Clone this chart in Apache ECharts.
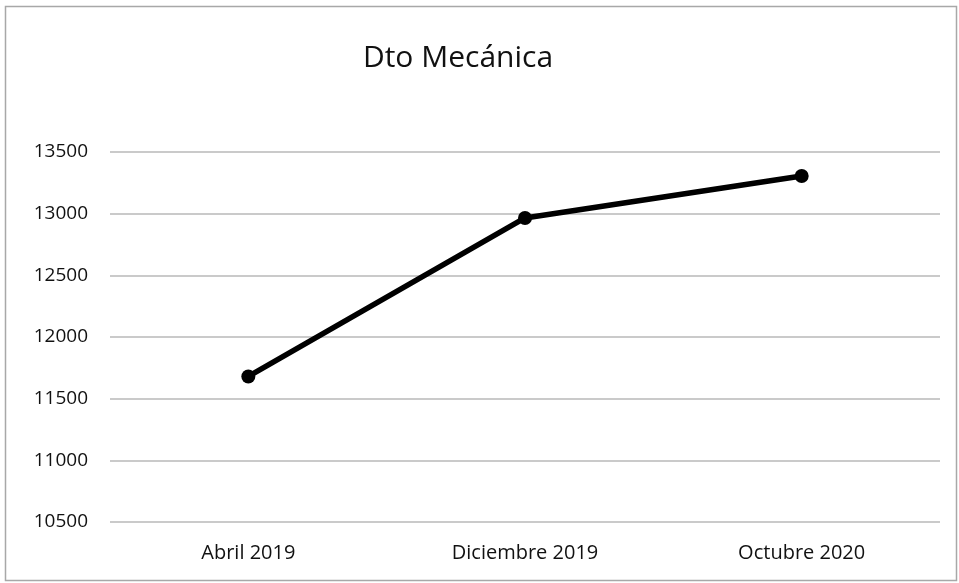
<!DOCTYPE html>
<html>
<head>
<meta charset="utf-8">
<script src="https://cdn.jsdelivr.net/npm/echarts@6/dist/echarts.min.js"></script>
<style>
  html, body { margin: 0; padding: 0; background: #ffffff; }
  #chart { width: 959px; height: 583px; }
</style>
</head>
<body>
<div id="chart"></div>
<script>
const CATEGORIES = ["Abril 2019", "Diciembre 2019", "Octubre 2020"];
const VALUES = [11680, 12965, 13305];
const Y_MIN = 10500;
const Y_MAX = 13500;
const Y_STEP = 500;

const FONT = "'Open Sans', 'Noto Sans', sans-serif";

const chart = echarts.init(document.getElementById("chart"), null, { renderer: "canvas" });

chart.setOption({
  backgroundColor: "#ffffff",
  animation: false,
  title: {
    text: "Dto Mecánica",
    left: 453,
    top: 38,
    textAlign: "center",
    textStyle: {
      fontFamily: FONT,
      fontSize: 30,
      fontWeight: "normal",
      color: "#111111",
    },
  },
  graphic: [
    {
      type: "rect",
      shape: { x: 5.5, y: 6.5, width: 951, height: 574 },
      style: { fill: "none", stroke: "#a8a8a8", lineWidth: 1.5 },
      silent: true,
    },
  ],
  grid: {
    left: 110,
    right: 19,
    top: 152,
    bottom: 61,
    containLabel: false,
  },
  xAxis: {
    type: "category",
    data: CATEGORIES,
    boundaryGap: true,
    axisLine: { show: false },
    axisTick: { show: false },
    axisLabel: {
      fontFamily: FONT,
      fontSize: 20,
      color: "#111111",
      margin: 21,
    },
  },
  yAxis: {
    type: "value",
    min: Y_MIN,
    max: Y_MAX,
    interval: Y_STEP,
    axisLine: { show: false },
    axisTick: { show: false },
    axisLabel: {
      fontFamily: FONT,
      fontSize: 19,
      color: "#111111",
      margin: 22,
      formatter: (value) => String(value),
    },
    splitLine: {
      lineStyle: { color: "#b8b8b8", width: 1.5 },
    },
  },
  series: [
    {
      type: "line",
      data: VALUES,
      symbol: "circle",
      symbolSize: 14,
      lineStyle: { color: "#000000", width: 5.5 },
      itemStyle: { color: "#000000" },
    },
  ],
});
</script>
</body>
</html>
